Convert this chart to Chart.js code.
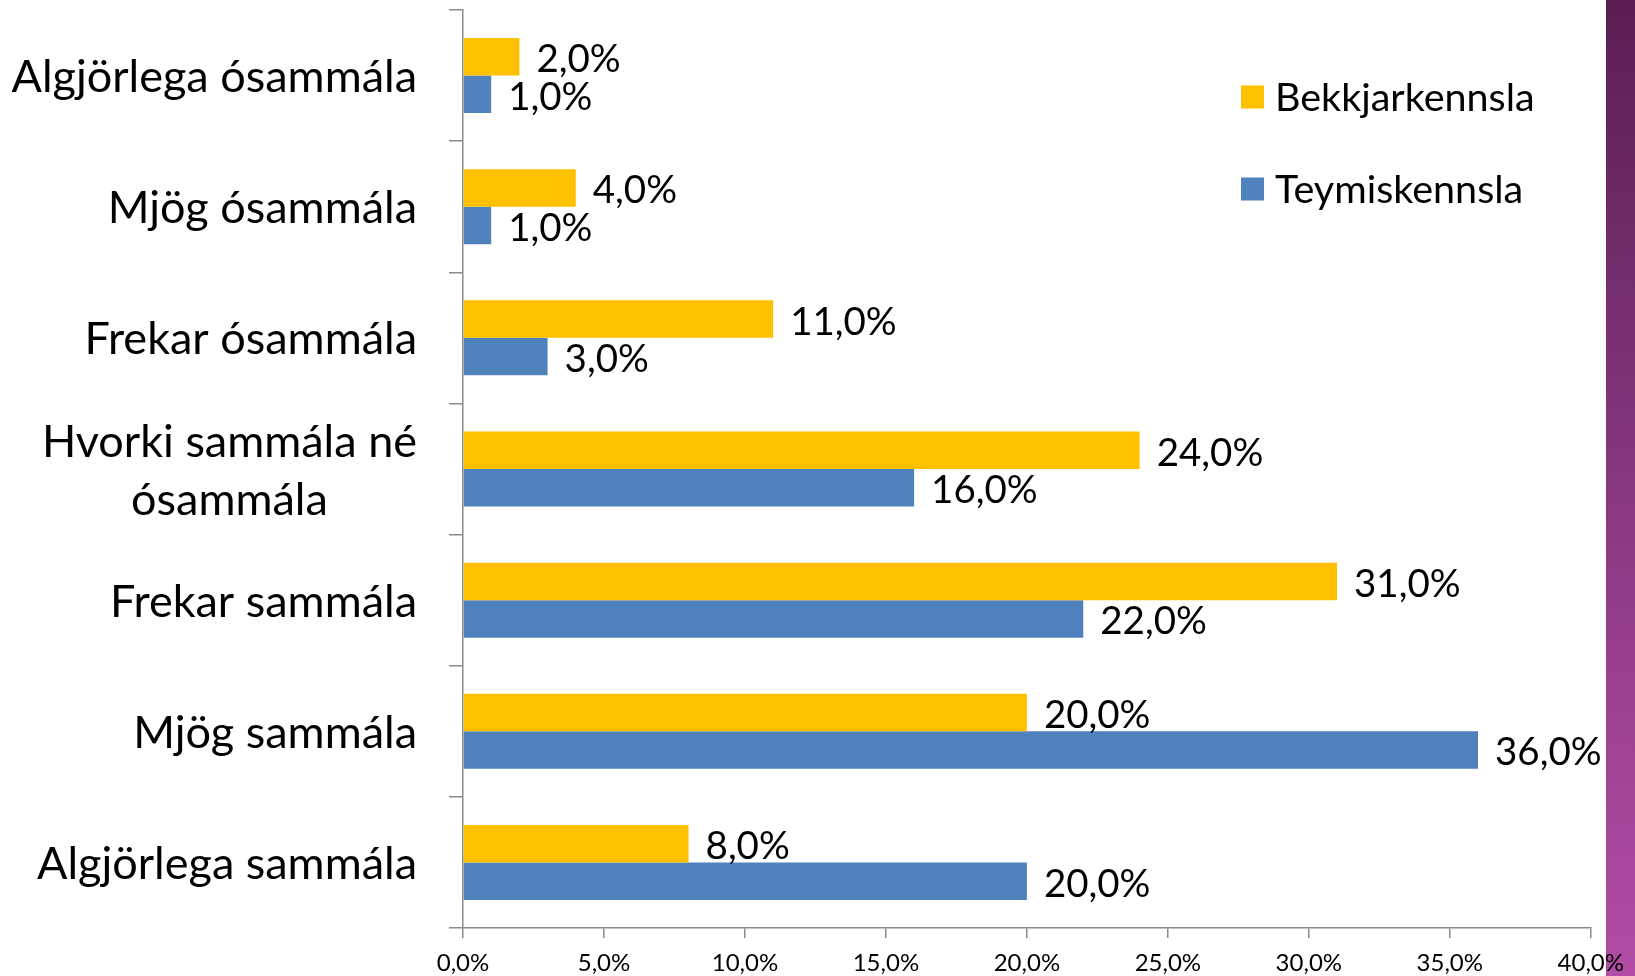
<!DOCTYPE html>
<html>
<head>
<meta charset="utf-8">
<script src="https://cdn.jsdelivr.net/npm/chart.js@4/dist/chart.umd.min.js"></script>
<style>
  html, body { margin: 0; padding: 0; background: #ffffff; }
  #wrap { position: relative; width: 1635px; height: 976px; overflow: hidden; }
  #strip { position: absolute; left: 1606px; top: 0; width: 29px; height: 976px;
           background: linear-gradient(to bottom, #5a1e52 0%, #7e3377 40%, #9a4090 70%, #b24ca4 100%); }
  #c { position: absolute; left: 0; top: 0; }
</style>
</head>
<body>
<div id="wrap">
  <div id="strip"></div>
  <canvas id="c" width="1635" height="976"></canvas>
</div>
<script>
const categories = [
  'Algjörlega ósammála',
  'Mjög ósammála',
  'Frekar ósammála',
  ['Hvorki sammála né', 'ósammála'],
  'Frekar sammála',
  'Mjög sammála',
  'Algjörlega sammála'
];
const seriesNames = ['Bekkjarkennsla', 'Teymiskennsla'];
const bekkjarkennsla = [2, 4, 11, 24, 31, 20, 8];
const teymiskennsla = [1, 1, 3, 16, 22, 36, 20];
const xTickValues = [0, 5, 10, 15, 20, 25, 30, 35, 40];

const YELLOW = '#FFC000';
const BLUE = '#4F81BD';
const AXIS = '#8a8a8a';
const FONT = 'Lato, "Open Sans", sans-serif';

function fmt(v) { return v.toFixed(1).replace('.', ',') + '%'; }

const overlay = {
  id: 'overlay',
  afterDatasetsDraw(chart) {
    const ctx = chart.ctx;
    ctx.save();
    // data labels
    ctx.font = '38.5px ' + FONT;
    ctx.fillStyle = '#000';
    ctx.textBaseline = 'middle';
    ctx.textAlign = 'left';
    chart.data.datasets.forEach((ds, di) => {
      const meta = chart.getDatasetMeta(di);
      meta.data.forEach((el, i) => {
        ctx.fillText(fmt(ds.data[i]), el.x + 17, el.y + 3);
      });
    });
    // category labels
    const ys = chart.scales.y;
    ctx.font = '45px ' + FONT;
    ctx.textAlign = 'center';
    categories.forEach((lab, i) => {
      const y = ys.getPixelForValue(i) + 2;
      const lines = Array.isArray(lab) ? lab : [lab];
      const widths = lines.map(l => ctx.measureText(l).width);
      const maxW = Math.max(...widths);
      const right = 417;
      const cx = right - maxW / 2;
      const lh = 58;
      lines.forEach((l, k) => {
        const ly = y + (k - (lines.length - 1) / 2) * lh;
        ctx.fillText(l, cx, ly);
      });
    });
    // legend
    const colors = [YELLOW, BLUE];
    ctx.font = '39.5px ' + FONT;
    ctx.textAlign = 'left';
    seriesNames.forEach((n, k) => {
      const cy = 97 + k * 92;
      ctx.fillStyle = colors[k];
      ctx.fillRect(1241, cy - 11.5, 23, 23);
      ctx.fillStyle = '#000';
      ctx.fillText(n, 1275, cy + 1);
    });
    ctx.restore();
  }
};

new Chart(document.getElementById('c'), {
  type: 'bar',
  data: {
    labels: categories,
    datasets: [
      { label: seriesNames[0], data: bekkjarkennsla, backgroundColor: YELLOW, borderWidth: 0 },
      { label: seriesNames[1], data: teymiskennsla, backgroundColor: BLUE, borderWidth: 0 }
    ]
  },
  options: {
    indexAxis: 'y',
    responsive: false,
    animation: false,
    events: [],
    layout: { padding: { top: 10, right: 43, left: 0, bottom: 0 } },
    datasets: { bar: { categoryPercentage: 0.572, barPercentage: 1.0 } },
    plugins: { legend: { display: false }, tooltip: { enabled: false } },
    scales: {
      x: {
        min: 0, max: 40,
        afterBuildTicks: (s) => { s.ticks = xTickValues.map(v => ({ value: v })); },
        afterFit: (s) => { s.height = 48; },
        border: { display: true, color: AXIS, width: 1.5 },
        grid: { display: true, drawOnChartArea: false, drawTicks: true, tickLength: 10, color: AXIS, lineWidth: 1.5 },
        ticks: {
          color: '#000',
          font: { family: FONT, size: 24 },
          padding: 11,
          maxRotation: 0,
          autoSkip: false,
          callback: (v) => fmt(v)
        }
      },
      y: {
        offset: true,
        afterFit: (s) => { s.width = 463; },
        border: { display: true, color: AXIS, width: 1.5 },
        grid: { display: true, offset: true, drawOnChartArea: false, drawTicks: true, tickLength: 14, color: AXIS, lineWidth: 1.5 },
        ticks: { display: false }
      }
    }
  },
  plugins: [overlay]
});
</script>
</body>
</html>
